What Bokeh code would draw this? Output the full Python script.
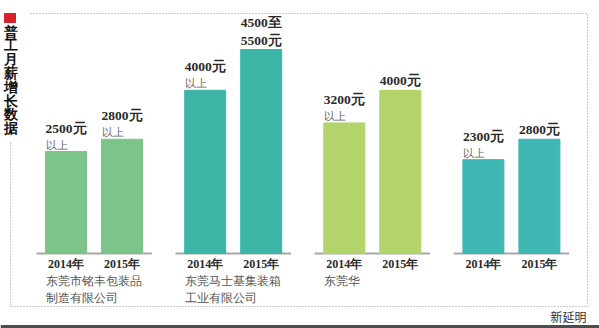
from bokeh.plotting import figure
from bokeh.models import Range1d, ColumnDataSource, LabelSet, Label
from bokeh.embed import file_html
from bokeh.resources import INLINE

# ---- data ----
companies = ["东莞市铭丰包装品\n制造有限公司", "东莞马士基集装箱\n工业有限公司", "东莞华", ""]
years = ["2014年", "2015年"]
values_2014 = [2500, 4000, 3200, 2300]
values_2015 = [2800, 5000, 4000, 2800]
labels_2014 = ["2500元", "4000元", "3200元", "2300元"]
labels_2015 = ["2800元", "4500至\n5500元", "4000元", "2800元"]
notes_2014 = ["以上", "以上", "以上", "以上"]
notes_2015 = ["以上", "", "", ""]
title_text = "普工月薪增长数据"
credit = "新延明"
colors = ["#7dc48b", "#3db5a6", "#b2d46a", "#3fb8b5"]

# ---- layout constants (pixel mapping) ----
W, H = 599, 328
PX_X, X0 = 139.1, 93.6      # px per group, px of group 0
PX_Y, Y0 = 0.0408, 253.0    # px per yuan, px of baseline from top
def X(px): return (px - X0) / PX_X
def Y(py): return (Y0 - py) / PX_Y

off = 28.0 / PX_X
bw = 41.0 / PX_X

p = figure(width=W, height=H, x_range=Range1d(X(0), X(W)), y_range=Range1d(Y(H), Y(0)),
           output_backend="svg", toolbar_location=None, min_border=0,
           x_axis_location=None, y_axis_location=None, title=None)
p.grid.visible = False
p.outline_line_color = None
p.background_fill_color = "white"
p.border_fill_color = "white"

n = len(companies)
xs, tops, cols, lbls, notes, yoffs = [], [], [], [], [], []
yr_t = []
for g in range(n):
    for j, (vals, lab, nt) in enumerate([(values_2014, labels_2014, notes_2014),
                                          (values_2015, labels_2015, notes_2015)]):
        xs.append(g + (-off if j == 0 else off))
        tops.append(vals[g])
        cols.append(colors[g])
        lbls.append(lab[g])
        notes.append(nt[g])
        yoffs.append(16 if nt[g] else 2)
        yr_t.append(years[j])

src = ColumnDataSource(dict(x=xs, top=tops, color=cols, label=lbls, note=notes,
                            left=[x - bw / 2 for x in xs], yoff=yoffs, year=yr_t))

# baselines
p.segment(x0=[g - 0.415 for g in range(n)], x1=[g + 0.415 for g in range(n)],
          y0=[0] * n, y1=[0] * n, line_color="#a8a8a8", line_width=2)

p.vbar(x="x", top="top", bottom=0, width=bw, color="color", source=src)

font_num = "DejaVu Serif"
p.add_layout(LabelSet(x="left", y="top", text="label", source=src, y_offset="yoff",
                      text_font=font_num, text_font_size="13.5px", text_font_style="bold",
                      text_color="#2a2a2a", text_baseline="bottom", text_align="left",
                      text_line_height=1.15))
p.add_layout(LabelSet(x="left", y="top", text="note", source=src, y_offset=1,
                      text_font="Noto Sans CJK SC", text_font_size="11px",
                      text_color="#666666", text_baseline="bottom", text_align="left"))
p.add_layout(LabelSet(x="x", y=0, text="year", source=src, y_offset=-3,
                      text_font=font_num, text_font_size="12px", text_font_style="bold",
                      text_color="#2a2a2a", text_baseline="top", text_align="center"))

csrc = ColumnDataSource(dict(x=[g - off - bw / 2 for g in range(n)], y=[0] * n, t=companies))
p.add_layout(LabelSet(x="x", y="y", text="t", source=csrc, y_offset=-20,
                      text_font="Noto Sans CJK SC", text_font_size="12px",
                      text_color="#555555", text_baseline="top", text_align="left",
                      text_line_height=1.25))

# dotted frame
p.line(x=[X(30), X(587), X(587), X(10), X(10)], y=[Y(13), Y(13), Y(306), Y(306), Y(140)],
       line_color="#9a9a9a", line_width=1, line_dash="1 2")
# bottom dark rule
p.line(x=[X(0), X(W)], y=[Y(326), Y(326)], line_color="#4d4d4d", line_width=3)

# title: red square + vertical text (one glyph per character)
p.rect(x=[X(9.5)], y=[Y(17.5)], width=11 / PX_X, height=9 / PX_Y, color="#d7222c")
chars = list(title_text)
tsrc = ColumnDataSource(dict(x=[X(10)] * len(chars),
                             y=[Y(24 + 13.8 * i) for i in range(len(chars))], t=chars))
p.add_layout(LabelSet(x="x", y="y", text="t", source=tsrc,
                      text_font="Noto Sans CJK SC", text_font_size="14px", text_font_style="bold",
                      text_color="#111111", text_align="center", text_baseline="top"))
p.add_layout(Label(x=X(586), y=Y(316), text=credit, text_font="Noto Sans CJK SC",
                   text_font_size="12px", text_color="#333333", text_align="right",
                   text_baseline="middle"))

open("out.html", "w").write(file_html(p, INLINE))
